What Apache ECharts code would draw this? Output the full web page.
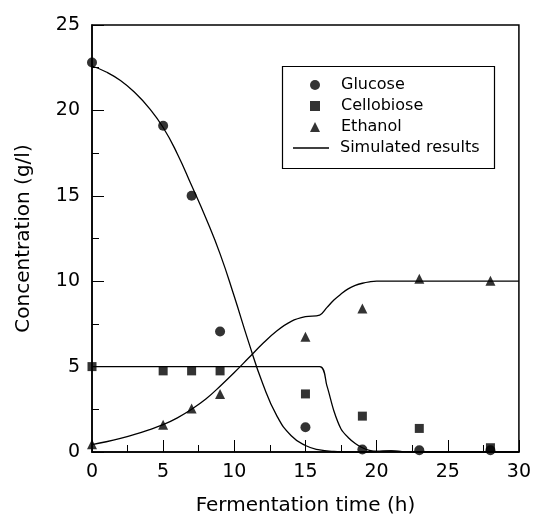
<!DOCTYPE html>
<html>
<head>
<meta charset="utf-8">
<script src="https://cdn.jsdelivr.net/npm/echarts@6/dist/echarts.min.js"></script>
<style>
html,body{margin:0;padding:0;background:#fff;}
#chart{width:534px;height:528px;}
</style>
</head>
<body>
<div id="chart"></div>
<script>
// Measured data points (time h, concentration g/l)
var glucoseT = [0, 5, 7, 9, 15, 19, 23, 28];
var glucoseC = [22.8, 19.1, 15.0, 7.05, 1.45, 0.15, 0.1, 0.1];
var cellobioseT = [0, 5, 7, 9, 15, 19, 23, 28];
var cellobioseC = [5.0, 4.75, 4.75, 4.75, 3.4, 2.1, 1.38, 0.25];
var ethanolT = [0, 5, 7, 9, 15, 19, 23, 28];
var ethanolC = [0.45, 1.6, 2.55, 3.4, 6.75, 8.4, 10.15, 10.02];

// Simulated curves
var simGlucoseT = [0, 1, 2, 3, 4, 5, 6, 7, 8, 9, 10, 11, 12, 13, 14, 15, 16, 17, 18, 19, 20, 21, 22, 23, 30];
var simGlucoseC = [22.6, 22.25, 21.75, 21.05, 20.15, 19.0, 17.45, 15.6, 13.7, 11.6, 9.1, 6.45, 4.0, 2.1, 0.95, 0.38, 0.12, 0.03, 0.0, 0.0, 0.03, 0.06, 0.02, 0.0, 0.0];
var simCellobioseT = [0, 16, 16.5, 17, 17.5, 18, 18.5, 19, 19.5, 20, 21, 22, 23, 30];
var simCellobioseC = [5.0, 5.0, 3.9, 2.4, 1.35, 0.85, 0.5, 0.25, 0.1, 0.04, 0.07, 0.02, 0.0, 0.0];
var simEthanolT = [0, 1, 2, 3, 4, 5, 6, 7, 8, 9, 10, 11, 12, 13, 14, 15, 16, 16.5, 17, 17.5, 18, 18.5, 19, 19.5, 20, 22, 30];
var simEthanolC = [0.43, 0.6, 0.8, 1.03, 1.3, 1.6, 2.0, 2.5, 3.1, 3.85, 4.65, 5.5, 6.35, 7.1, 7.65, 7.92, 8.02, 8.45, 8.9, 9.25, 9.55, 9.75, 9.88, 9.96, 10.0, 10.0, 10.0];

var xTicks = [0, 5, 10, 15, 20, 25, 30];
var yTicks = [0, 5, 10, 15, 20, 25];

function zip(a, b) { return a.map(function (v, i) { return [v, b[i]]; }); }

var FONT = 'DejaVu Sans';
var chart = echarts.init(document.getElementById('chart'), null, {renderer: 'canvas'});

var lineStyle = {color: '#000', width: 1.3};
function simSeries(t, c, sm) {
  return {
    name: 'Simulated results', type: 'line', data: zip(t, c),
    symbol: 'none', smooth: sm, lineStyle: lineStyle, itemStyle: {color: '#000'},
    z: 2, silent: true
  };
}

var legendText = {fontFamily: FONT, fontSize: 16, color: '#000', lineHeight: 16};

chart.setOption({
  animation: false,
  backgroundColor: '#fff',
  grid: {left: 92, right: 14, top: 25, bottom: 76, show: true, borderColor: '#000', borderWidth: 1.5},
  xAxis: {
    type: 'value', min: xTicks[0], max: xTicks[xTicks.length - 1], interval: 5,
    name: 'Fermentation time (h)', nameLocation: 'middle', nameGap: 44,
    nameTextStyle: {fontFamily: FONT, fontSize: 20, color: '#000'},
    axisLine: {show: true, lineStyle: {color: '#000', width: 1.5}},
    axisTick: {show: true, inside: true, length: 12, lineStyle: {color: '#000', width: 1}},
    minorTick: {show: true, splitNumber: 2, length: 7, lineStyle: {color: '#000', width: 1}},
    splitLine: {show: false},
    axisLabel: {fontFamily: FONT, fontSize: 19, color: '#000', margin: 11}
  },
  yAxis: {
    type: 'value', min: yTicks[0], max: yTicks[yTicks.length - 1], interval: 5,
    name: 'Concentration (g/l)', nameLocation: 'middle', nameGap: 58,
    nameTextStyle: {fontFamily: FONT, fontSize: 20, color: '#000'},
    axisLine: {show: true, lineStyle: {color: '#000', width: 1.5}},
    axisTick: {show: true, inside: true, length: 12, lineStyle: {color: '#000', width: 1}},
    minorTick: {show: true, splitNumber: 2, length: 7, lineStyle: {color: '#000', width: 1}},
    splitLine: {show: false},
    axisLabel: {fontFamily: FONT, fontSize: 19, color: '#000', margin: 12}
  },
  legend: [
    {
      data: [{name: 'Glucose', icon: 'circle'}, {name: 'Cellobiose', icon: 'rect'}, {name: 'Ethanol', icon: 'triangle'}],
      orient: 'vertical', left: 310, top: 77,
      padding: 0, itemGap: 5, itemWidth: 10, itemHeight: 10,
      textStyle: Object.assign({padding: [0, 0, 0, 16]}, legendText),
      selectedMode: false
    },
    {
      data: [{name: 'Simulated results', icon: 'rect'}],
      orient: 'vertical', left: 293, top: 140,
      padding: 0, itemWidth: 36, itemHeight: 1.3,
      textStyle: Object.assign({padding: [0, 0, 0, 6]}, legendText),
      selectedMode: false
    }
  ],
  graphic: [{
    type: 'rect', left: 280, top: 64, z: 10,
    shape: {width: 212, height: 102},
    style: {fill: 'none', stroke: '#000', lineWidth: 1.2}
  }],
  series: [
    simSeries(simGlucoseT, simGlucoseC, 0.5),
    simSeries(simCellobioseT, simCellobioseC, 0.3),
    simSeries(simEthanolT, simEthanolC, 0.4),
    {name: 'Glucose', type: 'scatter', symbol: 'circle', symbolSize: 10, data: zip(glucoseT, glucoseC), itemStyle: {color: '#000'}, z: 3},
    {name: 'Cellobiose', type: 'scatter', symbol: 'rect', symbolSize: 9, data: zip(cellobioseT, cellobioseC), itemStyle: {color: '#000'}, z: 4},
    {name: 'Ethanol', type: 'scatter', symbol: 'triangle', symbolSize: 10, data: zip(ethanolT, ethanolC), itemStyle: {color: '#000'}, z: 3}
  ]
});
</script>
</body>
</html>
